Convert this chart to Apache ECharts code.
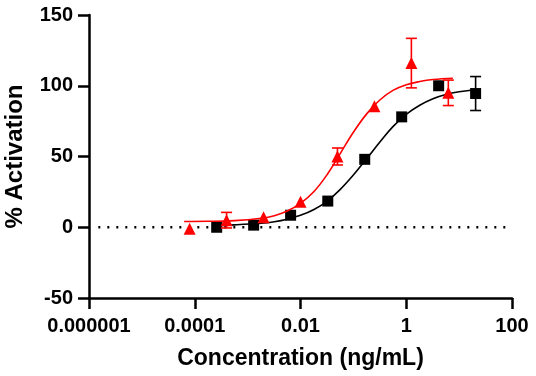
<!DOCTYPE html>
<html>
<head>
<meta charset="utf-8">
<script src="https://cdn.jsdelivr.net/npm/echarts@6/dist/echarts.min.js"></script>
<style>
  html, body { margin: 0; padding: 0; background: #fff; }
  #chart { width: 536px; height: 376px; }
</style>
</head>
<body>
<div id="chart"></div>
<script>
// measured points (ng/mL, % activation, SD)
var blackConc = [0.00026, 0.0013, 0.0065, 0.0328, 0.164, 0.82, 4.1, 20.5];
var blackVal  = [0, 1.5, 8.5, 18.5, 48, 78, 100, 94.5];
var blackErr  = [0, 0, 0, 0, 0, 0, 0, 12];

var redConc = [0.00008, 0.0004, 0.002, 0.01, 0.05, 0.25, 1.25, 6.25];
var redVal  = [-1, 5, 7, 18, 50, 85.5, 116, 95];
var redErr  = [0, 5.5, 0, 0, 6, 0, 17.5, 9];

// fitted curves
var redCurveX = [0.000063, 0.00018, 0.00056, 0.0018, 0.0032, 0.0056, 0.01, 0.018, 0.032, 0.056, 0.1, 0.18, 0.32, 0.56, 1, 1.8, 3.2, 7.6];
var redCurveY = [4.1, 4.2, 4.7, 6.4, 8.2, 11.5, 16.9, 25.3, 37.3, 51.9, 67.1, 80.3, 90.1, 96.7, 100.7, 103, 104.4, 105.3];
var blackCurveX = [0.00025, 0.00056, 0.0018, 0.0032, 0.0056, 0.01, 0.018, 0.032, 0.056, 0.1, 0.18, 0.32, 0.56, 1, 1.8, 3.2, 5.6, 10, 21.4];
var blackCurveY = [1.3, 1.7, 2.8, 3.9, 5.7, 8.4, 12.5, 18.5, 26.6, 36.9, 48.6, 60.4, 71.1, 79.8, 86.2, 90.8, 93.8, 95.7, 97.3];

var xTickLabels = {'-6': '0.000001', '-4': '0.0001', '-2': '0.01', '0': '1', '2': '100'};
var baseLine = [[0.0000015, 0], [75, 0]];

function pairs(xs, ys) {
    var out = [];
    for (var i = 0; i < xs.length; i++) out.push([xs[i], ys[i]]);
    return out;
}
function triples(xs, ys, es) {
    var out = [];
    for (var i = 0; i < xs.length; i++) out.push([xs[i], ys[i], es[i]]);
    return out;
}

// error bars with caps
function errRender(params, api) {
    var e = api.value(2);
    if (!e) return null;
    var x = api.value(0), y = api.value(1);
    var top = api.coord([x, y + e]);
    var bot = api.coord([x, y - e]);
    var w = 5.5;
    var st = { stroke: api.visual('color'), lineWidth: 1.6 };
    return {
        type: 'group',
        children: [
            { type: 'line', shape: { x1: top[0], y1: top[1], x2: bot[0], y2: bot[1] }, style: st },
            { type: 'line', shape: { x1: top[0] - w, y1: top[1], x2: top[0] + w, y2: top[1] }, style: st },
            { type: 'line', shape: { x1: bot[0] - w, y1: bot[1], x2: bot[0] + w, y2: bot[1] }, style: st }
        ]
    };
}

var font = '"Liberation Sans", Arial, sans-serif';
var myChart = echarts.init(document.getElementById('chart'));
var option = {
    animation: false,
    grid: { left: 89, right: 24, top: 15, bottom: 78, containLabel: false, outerBoundsMode: 'none' },
    xAxis: {
        type: 'log',
        logBase: 10,
        min: 0.000001,
        max: 100,
        interval: 2,
        name: 'Concentration (ng/mL)',
        nameLocation: 'middle',
        nameGap: 49,
        nameTextStyle: { fontFamily: font, fontWeight: 'bold', fontSize: 23, color: '#000' },
        axisLine: { onZero: false, lineStyle: { color: '#000', width: 2.5 } },
        axisTick: { show: true, length: 11, lineStyle: { color: '#000', width: 2.5 } },
        axisLabel: {
            fontFamily: font, fontWeight: 'bold', fontSize: 20, color: '#000', margin: 18,
            formatter: function (v) {
                var k = String(Math.round(Math.log10(v)));
                return xTickLabels[k] || '';
            }
        },
        splitLine: { show: false },
        minorTick: { show: false }
    },
    yAxis: {
        type: 'value',
        min: -50,
        max: 150,
        interval: 50,
        name: '% Activation',
        nameLocation: 'middle',
        nameGap: 62,
        nameTextStyle: { fontFamily: font, fontWeight: 'bold', fontSize: 24, color: '#000' },
        axisLine: { show: true, onZero: false, lineStyle: { color: '#000', width: 2.5 } },
        axisTick: { show: true, length: 11, lineStyle: { color: '#000', width: 2.5 } },
        axisLabel: { fontFamily: font, fontWeight: 'bold', fontSize: 20, color: '#000', margin: 16 },
        splitLine: { show: false }
    },
    series: [
        {
            type: 'line', data: baseLine, symbol: 'none', silent: true,
            lineStyle: { color: '#000', width: 2.5, type: [2, 7] }
        },
        {
            name: 'black fit', type: 'line', data: pairs(blackCurveX, blackCurveY),
            symbol: 'none', smooth: 0.4, lineStyle: { color: '#000', width: 1.6 }
        },
        {
            type: 'custom', renderItem: errRender, data: triples(blackConc, blackVal, blackErr),
            itemStyle: { color: '#000' }, z: 3
        },
        {
            name: 'black', type: 'scatter', data: pairs(blackConc, blackVal),
            symbol: 'rect', symbolSize: 11, itemStyle: { color: '#000', opacity: 1 }, z: 4
        },
        {
            name: 'red fit', type: 'line', data: pairs(redCurveX, redCurveY),
            symbol: 'none', smooth: 0.4, lineStyle: { color: '#ff0000', width: 1.6 }, z: 5
        },
        {
            type: 'custom', renderItem: errRender, data: triples(redConc, redVal, redErr),
            itemStyle: { color: '#ff0000' }, z: 6
        },
        {
            name: 'red', type: 'scatter', data: pairs(redConc, redVal),
            symbol: 'triangle', symbolSize: 12, itemStyle: { color: '#ff0000', opacity: 1 }, z: 7
        }
    ]
};
myChart.setOption(option);
window.addEventListener('resize', function () {
    myChart.resize();
});
</script>
</body>
</html>
